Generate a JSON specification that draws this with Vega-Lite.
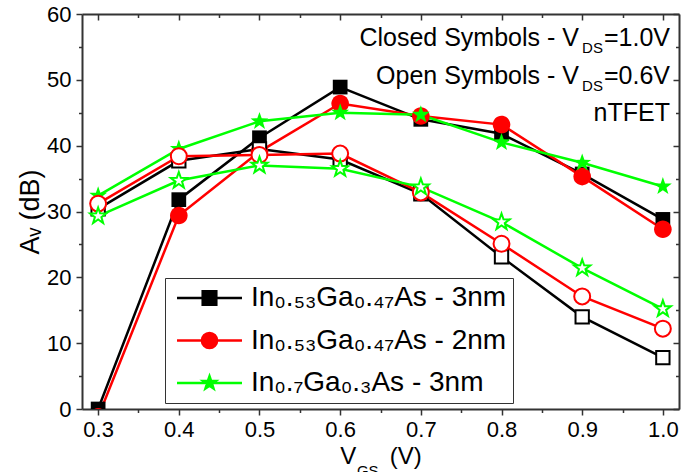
{
  "$schema": "https://vega.github.io/schema/vega-lite/v6.json",
  "width": 597,
  "height": 395,
  "autosize": {"type": "none"},
  "padding": {"left": 82, "top": 14, "right": 20, "bottom": 63},
  "background": "white",
  "title": {"text": "GS", "orient": "bottom", "anchor": "middle", "frame": "group", "fontSize": 15, "fontWeight": "normal", "font": "Liberation Sans", "color": "#000000", "dx": -12.7, "offset": -5},
  "data": {"values": [
    {"vgs": 0.3, "av": 0, "vds": 1.0, "material": "In\u2080.\u2085\u2083Ga\u2080.\u2084\u2087As - 3nm"},
    {"vgs": 0.4, "av": 31.8, "vds": 1.0, "material": "In\u2080.\u2085\u2083Ga\u2080.\u2084\u2087As - 3nm"},
    {"vgs": 0.5, "av": 41.2, "vds": 1.0, "material": "In\u2080.\u2085\u2083Ga\u2080.\u2084\u2087As - 3nm"},
    {"vgs": 0.6, "av": 48.9, "vds": 1.0, "material": "In\u2080.\u2085\u2083Ga\u2080.\u2084\u2087As - 3nm"},
    {"vgs": 0.7, "av": 44.0, "vds": 1.0, "material": "In\u2080.\u2085\u2083Ga\u2080.\u2084\u2087As - 3nm"},
    {"vgs": 0.8, "av": 41.8, "vds": 1.0, "material": "In\u2080.\u2085\u2083Ga\u2080.\u2084\u2087As - 3nm"},
    {"vgs": 0.9, "av": 35.7, "vds": 1.0, "material": "In\u2080.\u2085\u2083Ga\u2080.\u2084\u2087As - 3nm"},
    {"vgs": 1.0, "av": 28.8, "vds": 1.0, "material": "In\u2080.\u2085\u2083Ga\u2080.\u2084\u2087As - 3nm"},
    {"vgs": 0.3, "av": 30.4, "vds": 0.6, "material": "In\u2080.\u2085\u2083Ga\u2080.\u2084\u2087As - 3nm"},
    {"vgs": 0.4, "av": 37.7, "vds": 0.6, "material": "In\u2080.\u2085\u2083Ga\u2080.\u2084\u2087As - 3nm"},
    {"vgs": 0.5, "av": 39.5, "vds": 0.6, "material": "In\u2080.\u2085\u2083Ga\u2080.\u2084\u2087As - 3nm"},
    {"vgs": 0.6, "av": 37.9, "vds": 0.6, "material": "In\u2080.\u2085\u2083Ga\u2080.\u2084\u2087As - 3nm"},
    {"vgs": 0.7, "av": 32.7, "vds": 0.6, "material": "In\u2080.\u2085\u2083Ga\u2080.\u2084\u2087As - 3nm"},
    {"vgs": 0.8, "av": 23.1, "vds": 0.6, "material": "In\u2080.\u2085\u2083Ga\u2080.\u2084\u2087As - 3nm"},
    {"vgs": 0.9, "av": 14.0, "vds": 0.6, "material": "In\u2080.\u2085\u2083Ga\u2080.\u2084\u2087As - 3nm"},
    {"vgs": 1.0, "av": 7.8, "vds": 0.6, "material": "In\u2080.\u2085\u2083Ga\u2080.\u2084\u2087As - 3nm"},
    {"vgs": 0.3, "av": -1.2, "vds": 1.0, "material": "In\u2080.\u2085\u2083Ga\u2080.\u2084\u2087As - 2nm"},
    {"vgs": 0.4, "av": 29.4, "vds": 1.0, "material": "In\u2080.\u2085\u2083Ga\u2080.\u2084\u2087As - 2nm"},
    {"vgs": 0.5, "av": 39.1, "vds": 1.0, "material": "In\u2080.\u2085\u2083Ga\u2080.\u2084\u2087As - 2nm"},
    {"vgs": 0.6, "av": 46.4, "vds": 1.0, "material": "In\u2080.\u2085\u2083Ga\u2080.\u2084\u2087As - 2nm"},
    {"vgs": 0.7, "av": 44.5, "vds": 1.0, "material": "In\u2080.\u2085\u2083Ga\u2080.\u2084\u2087As - 2nm"},
    {"vgs": 0.8, "av": 43.2, "vds": 1.0, "material": "In\u2080.\u2085\u2083Ga\u2080.\u2084\u2087As - 2nm"},
    {"vgs": 0.9, "av": 35.3, "vds": 1.0, "material": "In\u2080.\u2085\u2083Ga\u2080.\u2084\u2087As - 2nm"},
    {"vgs": 1.0, "av": 27.3, "vds": 1.0, "material": "In\u2080.\u2085\u2083Ga\u2080.\u2084\u2087As - 2nm"},
    {"vgs": 0.3, "av": 31.2, "vds": 0.6, "material": "In\u2080.\u2085\u2083Ga\u2080.\u2084\u2087As - 2nm"},
    {"vgs": 0.4, "av": 38.4, "vds": 0.6, "material": "In\u2080.\u2085\u2083Ga\u2080.\u2084\u2087As - 2nm"},
    {"vgs": 0.5, "av": 38.6, "vds": 0.6, "material": "In\u2080.\u2085\u2083Ga\u2080.\u2084\u2087As - 2nm"},
    {"vgs": 0.6, "av": 38.8, "vds": 0.6, "material": "In\u2080.\u2085\u2083Ga\u2080.\u2084\u2087As - 2nm"},
    {"vgs": 0.7, "av": 32.9, "vds": 0.6, "material": "In\u2080.\u2085\u2083Ga\u2080.\u2084\u2087As - 2nm"},
    {"vgs": 0.8, "av": 25.1, "vds": 0.6, "material": "In\u2080.\u2085\u2083Ga\u2080.\u2084\u2087As - 2nm"},
    {"vgs": 0.9, "av": 17.1, "vds": 0.6, "material": "In\u2080.\u2085\u2083Ga\u2080.\u2084\u2087As - 2nm"},
    {"vgs": 1.0, "av": 12.2, "vds": 0.6, "material": "In\u2080.\u2085\u2083Ga\u2080.\u2084\u2087As - 2nm"},
    {"vgs": 0.3, "av": 32.4, "vds": 1.0, "material": "In\u2080.\u2087Ga\u2080.\u2083As - 3nm"},
    {"vgs": 0.4, "av": 39.5, "vds": 1.0, "material": "In\u2080.\u2087Ga\u2080.\u2083As - 3nm"},
    {"vgs": 0.5, "av": 43.7, "vds": 1.0, "material": "In\u2080.\u2087Ga\u2080.\u2083As - 3nm"},
    {"vgs": 0.6, "av": 45.0, "vds": 1.0, "material": "In\u2080.\u2087Ga\u2080.\u2083As - 3nm"},
    {"vgs": 0.7, "av": 44.7, "vds": 1.0, "material": "In\u2080.\u2087Ga\u2080.\u2083As - 3nm"},
    {"vgs": 0.8, "av": 40.5, "vds": 1.0, "material": "In\u2080.\u2087Ga\u2080.\u2083As - 3nm"},
    {"vgs": 0.9, "av": 37.4, "vds": 1.0, "material": "In\u2080.\u2087Ga\u2080.\u2083As - 3nm"},
    {"vgs": 1.0, "av": 33.8, "vds": 1.0, "material": "In\u2080.\u2087Ga\u2080.\u2083As - 3nm"},
    {"vgs": 0.3, "av": 29.3, "vds": 0.6, "material": "In\u2080.\u2087Ga\u2080.\u2083As - 3nm"},
    {"vgs": 0.4, "av": 34.7, "vds": 0.6, "material": "In\u2080.\u2087Ga\u2080.\u2083As - 3nm"},
    {"vgs": 0.5, "av": 37.0, "vds": 0.6, "material": "In\u2080.\u2087Ga\u2080.\u2083As - 3nm"},
    {"vgs": 0.6, "av": 36.5, "vds": 0.6, "material": "In\u2080.\u2087Ga\u2080.\u2083As - 3nm"},
    {"vgs": 0.7, "av": 33.7, "vds": 0.6, "material": "In\u2080.\u2087Ga\u2080.\u2083As - 3nm"},
    {"vgs": 0.8, "av": 28.4, "vds": 0.6, "material": "In\u2080.\u2087Ga\u2080.\u2083As - 3nm"},
    {"vgs": 0.9, "av": 21.4, "vds": 0.6, "material": "In\u2080.\u2087Ga\u2080.\u2083As - 3nm"},
    {"vgs": 1.0, "av": 15.2, "vds": 0.6, "material": "In\u2080.\u2087Ga\u2080.\u2083As - 3nm"}
  ]},
  "resolve": {
    "scale": {"shape": "independent"},
    "legend": {"fill": "independent", "stroke": "independent", "shape": "independent"},
    "axis": {"x": "independent", "y": "independent"}
  },
  "layer": [
    {
      "encoding": {
        "x": {"field": "vgs", "type": "quantitative", "scale": {"domain": [0.28, 1.02], "nice": false, "zero": false},
          "axis": {"orient": "bottom", "values": [0.3, 0.35, 0.4, 0.45, 0.5, 0.55, 0.6, 0.65, 0.7, 0.75, 0.8, 0.85, 0.9, 0.95, 1.0],
            "labelExpr": "round(datum.value*100) % 10 == 0 ? format(datum.value, '.1f') : ''",
            "tickSize": {"condition": {"test": "round(datum.value*100) % 10 != 0", "value": 3.5}, "value": 6},
            "labelPadding": 4, "labelFlush": false, "labelOverlap": false,
            "title": "V\u00a0\u00a0\u00a0\u00a0\u00a0(V)", "titleFontSize": 24, "titlePadding": 4.5}},
        "y": {"field": "av", "type": "quantitative", "scale": {"domain": [0, 60], "nice": false, "zero": false},
          "axis": {"orient": "left", "values": [0, 5, 10, 15, 20, 25, 30, 35, 40, 45, 50, 55, 60],
            "labelExpr": "datum.value % 10 == 0 ? datum.label : ''",
            "tickSize": {"condition": {"test": "datum.value % 10 != 0", "value": 3.5}, "value": 6},
            "labelPadding": 5, "labelFlush": false, "labelOverlap": false,
            "title": "A\u1d65 (dB)", "titleFontSize": 27, "titlePadding": 2}}
      },
      "layer": [
        {
          "mark": {"type": "line", "strokeWidth": 2.5, "clip": true},
          "encoding": {
            "color": {"field": "material", "type": "nominal",
              "scale": {"domain": ["In\u2080.\u2085\u2083Ga\u2080.\u2084\u2087As - 3nm", "In\u2080.\u2085\u2083Ga\u2080.\u2084\u2087As - 2nm", "In\u2080.\u2087Ga\u2080.\u2083As - 3nm"], "range": ["#000000", "#ff0000", "#00ff00"]},
              "legend": null},
            "detail": {"field": "vds", "type": "nominal"}
          }
        },
        {
          "transform": [{"filter": "datum.vds == 1.0"}],
          "mark": {"type": "point", "filled": true, "size": 256, "opacity": 1, "strokeWidth": 0, "clip": true},
          "encoding": {
            "color": {"field": "material", "type": "nominal", "legend": null},
            "shape": {"field": "material", "type": "nominal",
              "scale": {"domain": ["In\u2080.\u2085\u2083Ga\u2080.\u2084\u2087As - 3nm", "In\u2080.\u2085\u2083Ga\u2080.\u2084\u2087As - 2nm", "In\u2080.\u2087Ga\u2080.\u2083As - 3nm"],
                "range": ["M-0.92,-0.92H0.92V0.92H-0.92Z", "M-1.1,0A1.1,1.1,0,1,0,1.1,0A1.1,1.1,0,1,0,-1.1,0Z", "M0,-1.175L0.276,-0.38L1.117,-0.363L0.447,0.145L0.691,0.951L0,0.47L-0.691,0.951L-0.447,0.145L-1.117,-0.363L-0.276,-0.38Z"]},
              "legend": null}
          }
        },
        {
          "transform": [{"filter": "datum.vds == 0.6"}],
          "mark": {"type": "point", "filled": false, "fill": "white", "size": 210, "opacity": 1, "strokeWidth": 2, "clip": true},
          "encoding": {
            "color": {"field": "material", "type": "nominal", "legend": null},
            "shape": {"field": "material", "type": "nominal", "legend": null}
          }
        }
      ]
    },
    {
      "transform": [{"filter": "false"}],
      "mark": {"type": "point", "filled": true, "size": 256, "opacity": 1, "strokeWidth": 2.5},
      "encoding": {
        "x": {"field": "vgs", "type": "quantitative", "scale": {"domain": [0.28, 1.02], "nice": false, "zero": false},
          "axis": {"orient": "top", "values": [0.3, 0.35, 0.4, 0.45, 0.5, 0.55, 0.6, 0.65, 0.7, 0.75, 0.8, 0.85, 0.9, 0.95, 1.0],
            "labels": false, "title": null,
            "tickSize": {"condition": {"test": "round(datum.value*100) % 10 != 0", "value": -3.5}, "value": -6}}},
        "y": {"field": "av", "type": "quantitative", "scale": {"domain": [0, 60], "nice": false, "zero": false},
          "axis": {"orient": "right", "values": [0, 5, 10, 15, 20, 25, 30, 35, 40, 45, 50, 55, 60],
            "labels": false, "title": null,
            "tickSize": {"condition": {"test": "datum.value % 10 != 0", "value": -3.5}, "value": -6}}},
        "fill": {"field": "material", "type": "nominal",
          "scale": {"domain": ["In\u2080.\u2085\u2083Ga\u2080.\u2084\u2087As - 3nm", "In\u2080.\u2085\u2083Ga\u2080.\u2084\u2087As - 2nm", "In\u2080.\u2087Ga\u2080.\u2083As - 3nm"], "range": ["#000000", "#ff0000", "#00ff00"]},
          "legend": {"orient": "none", "legendX": 83, "legendY": 264, "title": null, "direction": "vertical", "strokeColor": "#333333", "fillColor": "white", "padding": 6, "symbolSize": 256, "symbolStrokeWidth": 2.5, "symbolOffset": 24.5, "labelOffset": 27.4, "labelFontSize": 28, "labelFont": "Liberation Sans", "labelColor": "#000000", "rowPadding": 14.5, "labelLimit": 500}},
        "stroke": {"field": "material", "type": "nominal",
          "scale": {"domain": ["In\u2080.\u2085\u2083Ga\u2080.\u2084\u2087As - 3nm", "In\u2080.\u2085\u2083Ga\u2080.\u2084\u2087As - 2nm", "In\u2080.\u2087Ga\u2080.\u2083As - 3nm"], "range": ["#000000", "#ff0000", "#00ff00"]},
          "legend": {"orient": "none", "legendX": 83, "legendY": 264, "title": null, "direction": "vertical", "strokeColor": "#333333", "fillColor": "white", "padding": 6, "symbolSize": 256, "symbolStrokeWidth": 2.5, "symbolOffset": 24.5, "labelOffset": 27.4, "labelFontSize": 28, "labelFont": "Liberation Sans", "labelColor": "#000000", "rowPadding": 14.5, "labelLimit": 500}},
        "shape": {"field": "material", "type": "nominal",
          "scale": {"domain": ["In\u2080.\u2085\u2083Ga\u2080.\u2084\u2087As - 3nm", "In\u2080.\u2085\u2083Ga\u2080.\u2084\u2087As - 2nm", "In\u2080.\u2087Ga\u2080.\u2083As - 3nm"],
            "range": ["M-4.06,0H4.06M-0.85,-0.85H0.85V0.85H-0.85Z", "M-4.06,0H4.06M-0.95,0A0.95,0.95,0,1,0,0.95,0A0.95,0.95,0,1,0,-0.95,0Z", "M-4.06,0H4.06M0,-0.85L0.2,-0.275L0.808,-0.263L0.323,0.105L0.5,0.688L0,0.34L-0.5,0.688L-0.323,0.105L-0.808,-0.263L-0.2,-0.275Z"]},
          "legend": {"orient": "none", "legendX": 83, "legendY": 264, "title": null, "direction": "vertical", "strokeColor": "#333333", "fillColor": "white", "padding": 6, "symbolSize": 256, "symbolStrokeWidth": 2.5, "symbolOffset": 24.5, "labelOffset": 27.4, "labelFontSize": 28, "labelFont": "Liberation Sans", "labelColor": "#000000", "rowPadding": 14.5, "labelLimit": 500}}
      }
    },
    {
      "data": {"values": [{"label": ["=1.0V", "=0.6V", "nTFET"]}]},
      "mark": {"type": "text", "align": "right", "baseline": "alphabetic", "fontSize": 25, "font": "Liberation Sans", "color": "#000000", "lineHeight": 37.85},
      "encoding": {
        "x": {"datum": 1.0088, "type": "quantitative", "scale": {"domain": [0.28, 1.02], "nice": false, "zero": false}, "axis": null},
        "y": {"datum": 55.19, "type": "quantitative", "scale": {"domain": [0, 60], "nice": false, "zero": false}, "axis": null},
        "text": {"field": "label"}
      }
    },
    {
      "data": {"values": [{"label": ["DS", "DS"]}]},
      "mark": {"type": "text", "align": "right", "baseline": "alphabetic", "fontSize": 15, "font": "Liberation Sans", "color": "#000000", "lineHeight": 37.85, "dx": -67, "dy": 7.3},
      "encoding": {
        "x": {"datum": 1.0088, "type": "quantitative", "scale": {"domain": [0.28, 1.02], "nice": false, "zero": false}, "axis": null},
        "y": {"datum": 55.19, "type": "quantitative", "scale": {"domain": [0, 60], "nice": false, "zero": false}, "axis": null},
        "text": {"field": "label"}
      }
    },
    {
      "data": {"values": [{"label": ["Closed Symbols - V", "Open Symbols - V"]}]},
      "mark": {"type": "text", "align": "right", "baseline": "alphabetic", "fontSize": 25, "font": "Liberation Sans", "color": "#000000", "lineHeight": 37.85, "dx": -91},
      "encoding": {
        "x": {"datum": 1.0088, "type": "quantitative", "scale": {"domain": [0.28, 1.02], "nice": false, "zero": false}, "axis": null},
        "y": {"datum": 55.19, "type": "quantitative", "scale": {"domain": [0, 60], "nice": false, "zero": false}, "axis": null},
        "text": {"field": "label"}
      }
    }
  ],
  "config": {
    "view": {"stroke": null},
    "font": "Liberation Sans",
    "axis": {"grid": false, "domainColor": "#333333", "domainWidth": 2, "tickColor": "#333333", "tickWidth": 1.5,
      "labelFont": "Liberation Sans", "labelFontSize": 22, "labelColor": "#000000",
      "titleFont": "Liberation Sans", "titleColor": "#000000", "titleFontWeight": "normal"}
  }
}
